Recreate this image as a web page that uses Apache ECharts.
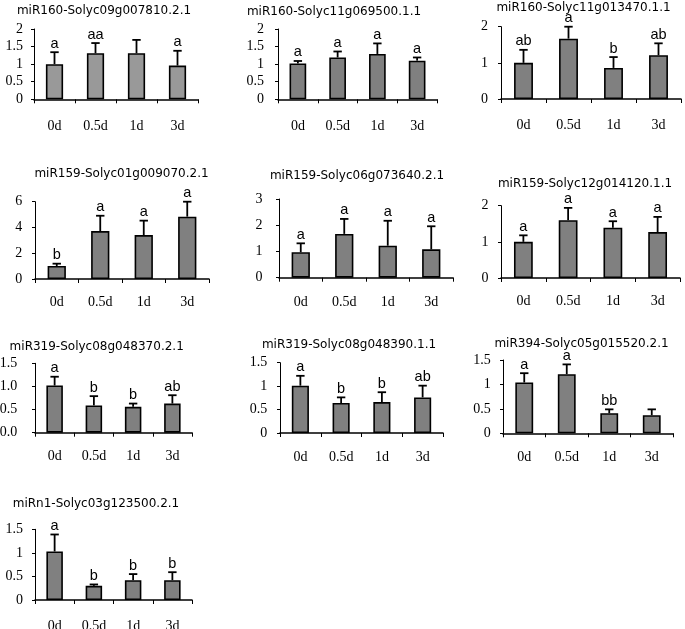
<!DOCTYPE html>
<html><head><meta charset="utf-8">
<script src="https://cdn.jsdelivr.net/npm/echarts@6/dist/echarts.min.js"></script>
<style>html,body{margin:0;padding:0;background:#fff}#c{width:685px;height:629px}</style>
</head><body><div id="c"></div>
<script>
// ---------- data ----------
const categories = ['0d', '0.5d', '1d', '3d'];
const titles = [
  'miR160-Solyc09g007810.2.1', 'miR160-Solyc11g069500.1.1', 'miR160-Solyc11g013470.1.1',
  'miR159-Solyc01g009070.2.1', 'miR159-Solyc06g073640.2.1', 'miR159-Solyc12g014120.1.1',
  'miR319-Solyc08g048370.2.1', 'miR319-Solyc08g048390.1.1', 'miR394-Solyc05g015520.2.1',
  'miRn1-Solyc03g123500.2.1'
];
const mean1 = [1.00, 1.31, 1.31, 0.96]; const sd1 = [0.34, 0.29, 0.38, 0.42]; const sig1 = ['a', 'aa', '', 'a'];
const mean2 = [1.02, 1.19, 1.29, 1.10]; const sd2 = [0.07, 0.17, 0.30, 0.09]; const sig2 = ['a', 'a', 'a', 'a'];
const mean3 = [1.00, 1.67, 0.86, 1.21]; const sd3 = [0.36, 0.33, 0.30, 0.33]; const sig3 = ['ab', 'a', 'b', 'ab'];
const mean4 = [1.01, 3.72, 3.41, 4.84]; const sd4 = [0.18, 1.19, 1.12, 1.16]; const sig4 = ['b', 'a', 'a', 'a'];
const mean5 = [0.97, 1.67, 1.22, 1.08]; const sd5 = [0.34, 0.57, 0.95, 0.88]; const sig5 = ['a', 'a', 'a', 'a'];
const mean6 = [1.00, 1.60, 1.39, 1.27]; const sd6 = [0.18, 0.34, 0.18, 0.42]; const sig6 = ['a', 'a', 'a', 'a'];
const mean7 = [1.02, 0.59, 0.56, 0.63]; const sd7 = [0.19, 0.20, 0.07, 0.18]; const sig7 = ['a', 'b', 'b', 'ab'];
const mean8 = [1.01, 0.64, 0.66, 0.76]; const sd8 = [0.21, 0.12, 0.21, 0.25]; const sig8 = ['a', 'b', 'b', 'ab'];
const mean9 = [1.04, 1.21, 0.41, 0.37]; const sd9 = [0.19, 0.20, 0.08, 0.12]; const sig9 = ['a', 'a', 'bb', ''];
const mean10 = [1.03, 0.30, 0.42, 0.42]; const sd10 = [0.36, 0.03, 0.13, 0.17]; const sig10 = ['a', 'b', 'b', 'b'];
const yMax = [2, 2, 2, 6, 3, 2, 1.5, 1.5, 1.5, 1.5];
const yInterval = [0.5, 0.5, 1, 2, 1, 1, 0.5, 0.5, 0.5, 0.5];
const yDecimals = [null, null, null, null, null, null, 1, null, null, null];

const means = [mean1, mean2, mean3, mean4, mean5, mean6, mean7, mean8, mean9, mean10];
const sds = [sd1, sd2, sd3, sd4, sd5, sd6, sd7, sd8, sd9, sd10];
const sigs = [sig1, sig2, sig3, sig4, sig5, sig6, sig7, sig8, sig9, sig10];

// ---------- layout (pixels) ----------
// [axisLeft, axisRight, yTop, yZero, titleCx, titleCy, catGap, yLabelMargin, barColor]
const layout = [
  [34, 198, 29, 99.3, 104, 10, 27, 11, '#999999'],
  [278, 437, 29, 99.3, 334, 10.5, 27, 14, '#808080'],
  [501, 681, 26.7, 99, 583.5, 6.5, 26, 13, '#808080'],
  [35, 209, 201.7, 279, 121.5, 172.5, 23, 12.7, '#808080'],
  [279, 453, 199, 277.7, 357, 175, 24.5, 16.6, '#808080'],
  [501, 680, 205.7, 278, 585, 183.3, 23, 12.4, '#808080'],
  [35, 192, 363.3, 432.7, 96.7, 345.7, 24, 17.7, '#808080'],
  [280, 443, 362.7, 433, 349, 344, 24, 12.7, '#808080'],
  [503, 673, 360, 433.3, 581.5, 342.7, 24, 12.3, '#808080'],
  [35, 192, 529.3, 600, 96, 503, 26, 12, '#808080']
];

const chart = echarts.init(document.getElementById('c'), null, {renderer: 'canvas'});
const grid = [], xAxis = [], yAxis = [], series = [], graphic = [];
const serif = 'Liberation Serif';
titles.forEach((t, i) => {
  const L = layout[i];
  grid.push({left: L[0], top: L[2], width: L[1] - L[0], height: L[3] - L[2],
    containLabel: false, outerBoundsMode: 'none'});
  xAxis.push({type: 'category', gridIndex: i, data: categories,
    axisLine: {lineStyle: {color: '#000', width: 1.5}},
    axisTick: {show: true, length: 4, interval: 0, lineStyle: {color: '#000', width: 1}},
    axisLabel: {color: '#000', fontFamily: serif, fontSize: 14, margin: L[6] - 7, interval: 0},
    splitLine: {show: false}});
  const dec = yDecimals[i];
  yAxis.push({type: 'value', gridIndex: i, min: 0, max: yMax[i], interval: yInterval[i],
    axisLine: {show: true, lineStyle: {color: '#000', width: 1}},
    axisTick: {show: true, length: 3, lineStyle: {color: '#000', width: 1}},
    splitLine: {show: false},
    axisLabel: {color: '#000', fontFamily: serif, fontSize: 14, margin: L[7],
      formatter: v => dec != null ? v.toFixed(dec) : String(v)}});
  series.push({type: 'bar', xAxisIndex: i, yAxisIndex: i, data: means[i], barWidth: '42%',
    silent: true, itemStyle: {color: L[8], borderColor: '#000', borderWidth: 1.6}});
  const errData = means[i].map((m, k) => [k, m, m + sds[i][k]]);
  const sig = sigs[i];
  series.push({type: 'custom', xAxisIndex: i, yAxisIndex: i, data: errData, z: 5, silent: true,
    encode: {x: 0, y: [1, 2]},
    renderItem: (params, api) => {
      const x = api.value(0);
      const p0 = api.coord([x, api.value(1)]);
      const p1 = api.coord([x, api.value(2)]);
      const hw = 4.2;
      const st = {stroke: '#000', lineWidth: 1.8};
      const children = [
        {type: 'line', shape: {x1: p0[0], y1: p0[1], x2: p1[0], y2: p1[1]}, style: st},
        {type: 'line', shape: {x1: p1[0] - hw, y1: p1[1], x2: p1[0] + hw, y2: p1[1]}, style: st}
      ];
      const s = sig[params.dataIndex];
      if (s) children.push({type: 'text', style: {text: s, x: p1[0], y: p1[1] - 1,
        align: 'center', verticalAlign: 'bottom', fontFamily: 'Liberation Sans', fontSize: 14.5, fill: '#000'}});
      return {type: 'group', children};
    }});
  graphic.push({type: 'text', x: L[4], y: L[5] + 1, style: {text: t, align: 'center', verticalAlign: 'middle',
    fontFamily: 'DejaVu Sans', fontSize: 12, fill: '#000'}});
});
chart.setOption({animation: false, backgroundColor: '#fff', grid, xAxis, yAxis, series, graphic});
</script></body></html>
